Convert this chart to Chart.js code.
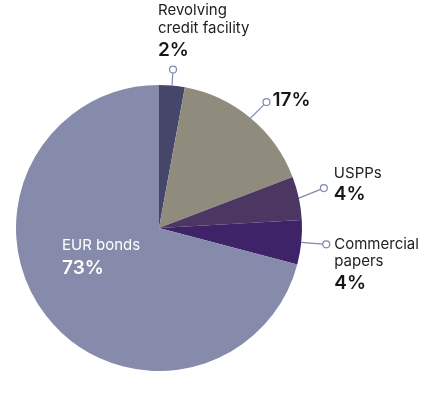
<!DOCTYPE html>
<html>
<head>
<meta charset="utf-8">
<script src="https://cdn.jsdelivr.net/npm/chart.js@4"></script>
<style>
  body { margin: 0; background: #fff; }
</style>
</head>
<body>
<canvas id="my-chart" width="437" height="396"></canvas>
<script>
// slices, clockwise from 12 o'clock
const categories = ['Revolving credit facility', '', 'USPPs', 'Commercial papers', 'EUR bonds'];
const nameLines = [['Revolving', 'credit facility'], [], ['USPPs'], ['Commercial', 'papers'], ['EUR bonds']];
const shareLabels = ['2%', '17%', '4%', '4%', '73%'];
const shareValues = [2.9, 16.3, 4.9, 5.0, 70.9]; // as drawn in the picture
const sliceColors = ['#45466a', '#8f8c7e', '#4b3762', '#3e2368', '#868bab'];

// leader: circle offset from the slice edge, text offset from the circle
const leaders = [
  { dx: 1, dy: -16, tx: -15, ty: [-55, -37, -14] },
  { dx: 16, dy: -16, tx: 6, ty: [4] },
  { dx: 25, dy: -10, tx: 10, ty: [-10, 12] },
  { dx: 25, dy: 2, tx: 8, ty: [5, 22, 45] },
  null
];

const labelPlugin = {
  id: 'pieLabels',
  afterDraw(chart) {
    const ctx = chart.ctx;
    const arcs = chart.getDatasetMeta(0).data;
    ctx.save();
    arcs.forEach((arc, i) => {
      const mid = (arc.startAngle + arc.endAngle) / 2;
      const lines = nameLines[i];
      const lead = leaders[i];
      if (!lead) {
        // inside label (EUR bonds)
        ctx.fillStyle = '#ffffff';
        ctx.textAlign = 'left';
        ctx.textBaseline = 'alphabetic';
        ctx.font = '400 15px Inter';
        ctx.fillText(lines[0], 62, 250);
        ctx.font = '600 19px Inter';
        ctx.fillText(shareLabels[i], 62, 274);
        return;
      }
      const ex = arc.x + Math.cos(mid) * arc.outerRadius;
      const ey = arc.y + Math.sin(mid) * arc.outerRadius;
      const cx = ex + lead.dx;
      const cy = ey + lead.dy;
      ctx.strokeStyle = '#8088b0';
      ctx.lineWidth = 1.2;
      ctx.beginPath();
      ctx.moveTo(ex, ey);
      const d = Math.hypot(lead.dx, lead.dy);
      ctx.lineTo(cx - lead.dx / d * 3.5, cy - lead.dy / d * 3.5);
      ctx.stroke();
      ctx.beginPath();
      ctx.arc(cx, cy, 3.5, 0, Math.PI * 2);
      ctx.fillStyle = '#fff';
      ctx.fill();
      ctx.stroke();

      ctx.textAlign = 'left';
      ctx.textBaseline = 'alphabetic';
      const x = cx + lead.tx;
      lines.forEach((t, k) => {
        ctx.font = '400 15px Inter';
        ctx.fillStyle = '#222222';
        ctx.fillText(t, x, cy + lead.ty[k]);
      });
      ctx.font = '600 19px Inter';
      ctx.fillStyle = '#161616';
      ctx.fillText(shareLabels[i], x, cy + lead.ty[lines.length]);
    });
    ctx.restore();
  }
};

const ctx = document.getElementById('my-chart').getContext('2d');
const chart = new Chart(ctx, {
  type: 'pie',
  data: {
    labels: categories,
    datasets: [{
      data: shareValues,
      backgroundColor: sliceColors,
      borderWidth: 0
    }]
  },
  options: {
    responsive: false,
    animation: false,
    layout: { padding: { left: 16, top: 85, right: 135, bottom: 25 } },
    plugins: {
      legend: { display: false },
      tooltip: { enabled: false }
    }
  },
  plugins: [labelPlugin]
});
</script>
</body>
</html>
